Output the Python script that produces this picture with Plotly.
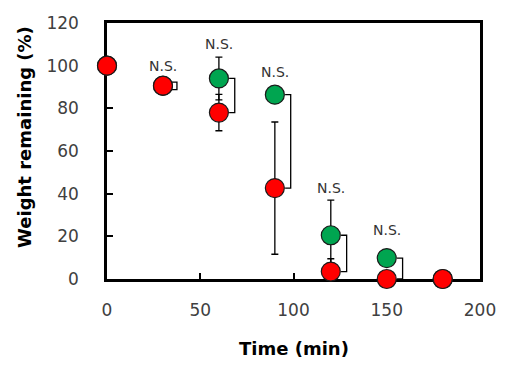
import plotly.graph_objects as go

time = [0, 30, 60, 90, 120, 150, 180]
green_vals = [100, 90.5, 94, 86.4, 20.5, 9.8, 0]
green_err = [0, 1.5, 10, 1.5, 16.5, 2, 0]
red_vals = [100, 90.6, 78, 42.6, 3.5, 0, 0]
red_err = [0, 2.5, 8.5, 31, 6, 0, 0]
ns_times = [30, 60, 90, 120, 150]
ns_y = [100, 110.3, 97.2, 42.7, 23]
ns_label = "N.S."
x_title = "Time (min)"
y_title = "Weight remaining (%)"

FONT = "DejaVu Sans"
fig = go.Figure()

# brackets joining the green and red means
bx, by = [], []
off, tick = 8.5, 3
for t, g, r in zip(time, green_vals, red_vals):
    if t in ns_times:
        xb = t + off
        if t == 30:
            xb = t + 7.5
            g, r = g + 1.8, r - 1.8
        bx += [xb - tick, xb, xb, xb - tick, None]
        by += [g, g, r, r, None]
fig.add_trace(go.Scatter(x=bx, y=by, mode="lines", line=dict(color="black", width=1.3),
                         hoverinfo="skip", showlegend=False, cliponaxis=False))

fig.add_trace(go.Scatter(
    x=time, y=green_vals, mode="markers",
    marker=dict(size=19, color="#00A550", line=dict(color="#1a1a1a", width=1.2)),
    error_y=dict(type="data", array=green_err, color="black", thickness=1.3, width=3.5),
    cliponaxis=False, showlegend=False))
fig.add_trace(go.Scatter(
    x=time, y=red_vals, mode="markers",
    marker=dict(size=19, color="#FF0000", line=dict(color="#1a1a1a", width=1.2)),
    error_y=dict(type="data", array=red_err, color="black", thickness=1.3, width=3.5),
    cliponaxis=False, showlegend=False))

# N.S. labels above each pair
for t, yv in zip(ns_times, ns_y):
    fig.add_annotation(x=t, y=yv, text=ns_label, showarrow=False,
                       font=dict(family=FONT, size=14, color="#333333"), yanchor="middle")

# axis titles
fig.add_annotation(text=f"<b>{y_title}</b>", xref="paper", yref="paper", x=0, y=0.555,
                   xshift=-82, textangle=-90, showarrow=False, xanchor="center", yanchor="middle",
                   font=dict(family=FONT, size=18, color="black"))
fig.add_annotation(text=f"<b>{x_title}</b>", xref="paper", yref="paper", x=0.502, y=0,
                   yshift=-69, showarrow=False, xanchor="center", yanchor="middle",
                   font=dict(family=FONT, size=18, color="black"))

fig.update_layout(
    width=514, height=357,
    margin=dict(l=99, r=42, t=15, b=86),
    plot_bgcolor="white", paper_bgcolor="white",
    font=dict(family=FONT, color="#404040", size=17),
)
fig.update_xaxes(
    range=[0, 200], tickvals=[0, 50, 100, 150, 200], showline=True, linecolor="black",
    linewidth=2.5, mirror=True, ticks="inside", ticklen=6, tickwidth=2, tickcolor="black",
    showgrid=False, zeroline=False, automargin=False, ticklabelstandoff=14, layer="below traces",
)
fig.update_yaxes(
    range=[0, 120], tickvals=[0, 20, 40, 60, 80, 100, 120], showline=True, linecolor="black",
    linewidth=2.5, mirror=True, ticks="inside", ticklen=6, tickwidth=2, tickcolor="black",
    showgrid=False, zeroline=False, automargin=False, ticklabelstandoff=22, layer="below traces",
)

fig.write_html("out.html")
